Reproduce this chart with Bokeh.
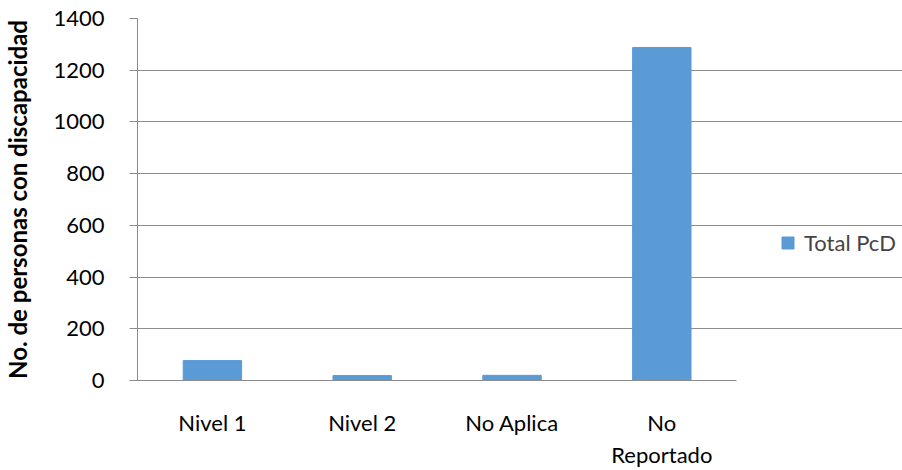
from bokeh.plotting import figure
from bokeh.models import ColumnDataSource, Legend, LegendItem, Range1d, FixedTicker
from bokeh.embed import file_html
from bokeh.resources import INLINE

categories = ["Nivel 1", "Nivel 2", "No Aplica", "No Reportado"]
category_labels = ["Nivel 1", "Nivel 2", "No Aplica", "No\nReportado"]
total_pcd = [77, 19, 20, 1288]
series_name = "Total PcD"
y_ticks = [0, 200, 400, 600, 800, 1000, 1200, 1400]

n = len(categories)
xpos = [i + 0.5 for i in range(n)]
source = ColumnDataSource(data=dict(x=xpos, cat=categories, val=total_pcd))

FONT = "Lato"
GRID = "#8c8c8c"
FS = "22px"

W, H = 902, 470
LEFT, TOP, BOTTOM = 136, 18, 88
plot_px = 600  # width used by the 4 categories
frame_px = W - LEFT

p = figure(width=W, height=H, output_backend="svg",
           toolbar_location=None, min_border_left=LEFT, min_border_top=TOP,
           min_border_bottom=BOTTOM, min_border_right=0)
p.x_range = Range1d(0, n * frame_px / plot_px)
p.y_range = Range1d(0, 1400)

r = p.vbar(x="x", top="val", width=0.39, source=source, color="#5B9BD5")

p.outline_line_color = None
p.xgrid.grid_line_color = None
p.ygrid.grid_line_color = GRID
p.ygrid.grid_line_width = 1
p.ygrid.bounds = (0, n)

p.yaxis.ticker = FixedTicker(ticks=y_ticks)
p.yaxis.axis_line_color = GRID
p.yaxis.major_tick_line_color = GRID
p.yaxis.major_tick_out = 8
p.yaxis.major_tick_in = 0
p.yaxis.minor_tick_line_color = None
p.yaxis.major_label_text_font = FONT
p.yaxis.major_label_text_font_size = FS
p.yaxis.major_label_text_color = "#000000"
p.yaxis.major_label_standoff = 25
p.yaxis.axis_label = "No. de personas con discapacidad"
p.yaxis.axis_label_text_font = FONT
p.yaxis.axis_label_text_font_size = "24px"
p.yaxis.axis_label_text_font_style = "bold"
p.yaxis.axis_label_text_color = "#000000"
p.yaxis.axis_label_standoff = 18

p.xaxis.bounds = (0, n)
p.xaxis.ticker = FixedTicker(ticks=xpos)
p.xaxis.axis_line_color = GRID
p.xaxis.major_tick_line_color = None
p.xaxis.major_tick_out = 0
p.xaxis.major_tick_in = 0
p.xaxis.minor_tick_line_color = None
p.xaxis.major_label_text_font = FONT
p.xaxis.major_label_text_font_size = FS
p.xaxis.major_label_text_color = "#000000"
p.xaxis.major_label_standoff = 28
p.xaxis.major_label_overrides = {x: lab for x, lab in zip(xpos, category_labels)}

legend = Legend(items=[LegendItem(label=series_name, renderers=[r])],
                location=(643, 124), border_line_color=None,
                background_fill_alpha=0,
                label_text_font=FONT, label_text_font_size=FS,
                glyph_width=15, glyph_height=15, label_standoff=9,
                padding=0, margin=0)
p.add_layout(legend, "center")

open("out.html", "w").write(file_html(p, INLINE))
